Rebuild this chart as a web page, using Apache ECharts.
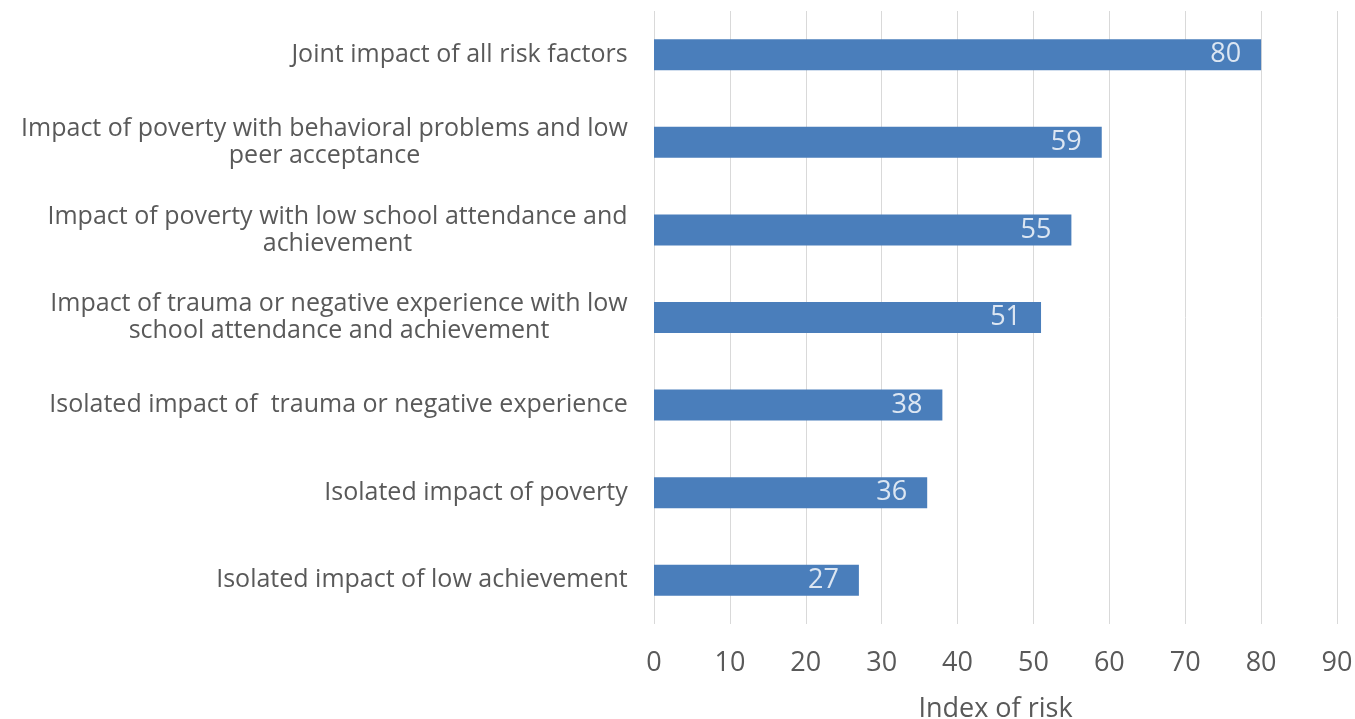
<!DOCTYPE html>
<html><head><meta charset="utf-8">
<script src="https://cdn.jsdelivr.net/npm/echarts@6/dist/echarts.min.js"></script>
<style>html,body{margin:0;padding:0;background:#fff}#c{width:1355px;height:719px}</style>
</head><body><div id="c"></div>
<script>
const categories = [
  "Isolated impact of low achievement",
  "Isolated impact of poverty",
  "Isolated impact of  trauma or negative experience",
  "Impact of trauma or negative experience with low\nschool attendance and achievement",
  "Impact of poverty with low school attendance and\nachievement",
  "Impact of poverty with behavioral problems and low\npeer acceptance",
  "Joint impact of all risk factors"
];
const values = [27, 36, 38, 51, 55, 59, 80];
const xTicks = [0, 10, 20, 30, 40, 50, 60, 70, 80, 90];
const axisTitle = "Index of risk";

const FONT = 'Open Sans';
const LSIZE = 25;
const TEXT = '#595959';
const ctx = document.createElement('canvas').getContext('2d');
ctx.font = LSIZE + 'px "' + FONT + '"';
function blockWidth(v) {
  return Math.ceil(Math.max(...v.split('\n').map(l => ctx.measureText(l).width)));
}
const rich = {};
categories.forEach(c => {
  const w = blockWidth(c);
  rich['c' + w] = { width: w, align: 'center', fontFamily: FONT, fontSize: LSIZE, color: TEXT, lineHeight: 27 };
});
const chart = echarts.init(document.getElementById('c'));
chart.setOption({
  animation: false,
  grid: { left: 654, right: 18, top: 11, bottom: 95, outerBoundsMode: 'none', containLabel: false },
  xAxis: {
    type: 'value', min: 0, max: 90, interval: 10,
    axisLine: { show: false }, axisTick: { show: false },
    splitLine: { show: true, lineStyle: { color: '#d9d9d9', width: 1 } },
    axisLabel: { color: TEXT, fontFamily: FONT, fontSize: 27, margin: 26,
      formatter: v => xTicks.includes(v) ? String(v) : '' },
    name: axisTitle, nameLocation: 'middle', nameGap: 72,
    nameTextStyle: { color: TEXT, fontFamily: FONT, fontSize: 27 }
  },
  yAxis: {
    type: 'category', data: categories,
    axisLine: { show: false }, axisTick: { show: false },
    axisLabel: {
      margin: 26, align: 'right',
      formatter: v => { const w = blockWidth(v); return v.split('\n').map(l => '{c' + w + '|' + l + '}').join('\n'); },
      rich: rich,
      color: TEXT, fontFamily: FONT, fontSize: LSIZE, lineHeight: 27
    }
  },
  series: [{
    type: 'bar', data: values, barWidth: 31,
    itemStyle: { color: '#4a7ebb' },
    label: { show: true, position: 'insideRight', distance: 20, color: '#dce6f2',
      fontFamily: FONT, fontSize: 27 }
  }]
});
</script></body></html>
